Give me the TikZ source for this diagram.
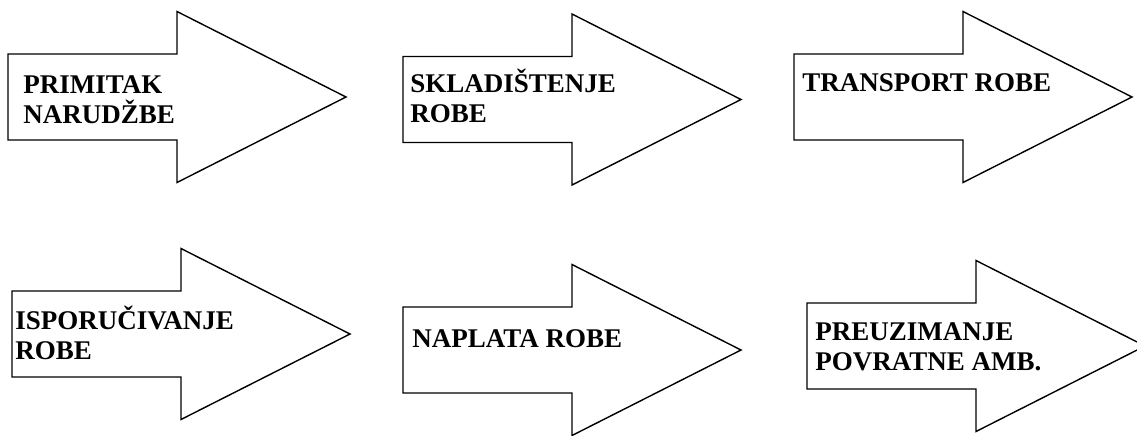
\documentclass[tikz,border=0pt]{standalone}
\usepackage{fontspec}
\setmainfont{Liberation Serif}

\tikzset{
  obrub/.style={draw=black, line width=0.7pt, fill=white, line join=miter},
  natpis/.style={font=\bfseries\fontsize{13.5}{15}\selectfont, align=left, inner sep=0pt, anchor=base west},
  pics/strelica/.style={code={
    \draw[obrub] (0,-43) -- (169,-43) -- (169,-85.5) -- (338,0)
      -- (169,85.5) -- (169,43) -- (0,43) -- cycle;
  }}
}

\begin{document}
\begin{tikzpicture}[x=0.5pt, y=-0.5pt]
\useasboundingbox (0,0) rectangle (1137,435);

% gornji red
\pic at (8,97) {strelica};
\pic at (403,99.5) {strelica};
\pic at (794,97) {strelica};
% donji red
\pic at (12,334) {strelica};
\pic at (403,350) {strelica};
\pic at (807,346) {strelica};

% base = zadnji redak teksta
\node[natpis] (primitak) at (23,123) {PRIMITAK\\NARUDŽBE};
\node[natpis] (skladistenje) at (410,122) {SKLADIŠTENJE\\ROBE};
\node[natpis] (transport) at (802,91) {TRANSPORT ROBE};
\node[natpis] (isporucivanje) at (15,359) {ISPORUČIVANJE\\ROBE};
\node[natpis] (naplata) at (412,347) {NAPLATA ROBE};
\node[natpis] (preuzimanje) at (815,370) {PREUZIMANJE\\POVRATNE AMB.};
\end{tikzpicture}
\end{document}
